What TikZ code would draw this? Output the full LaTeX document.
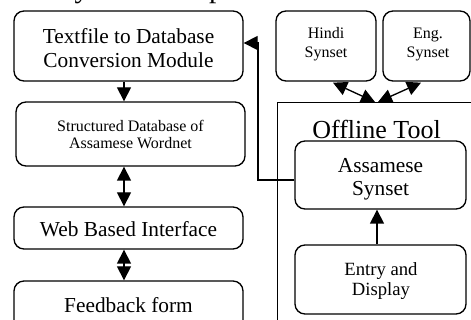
\documentclass[tikz,border=0pt]{standalone}
\usepackage{fontspec}
\setmainfont{Liberation Serif}
\usetikzlibrary{arrows.meta,calc}
\begin{document}
\begin{tikzpicture}[x=0.75pt,y=-0.75pt,
  box/.style={draw,line width=1pt,rounded corners=7.5pt,inner sep=0pt},
  txt/.style={inner sep=0pt,align=center},
  conn/.style={line width=1pt},
  tip/.style={-{Triangle[length=10.5pt,width=10.5pt]}},
  dtip/.style={{Triangle[length=10.5pt,width=10.5pt]}-{Triangle[length=10.5pt,width=10.5pt]}},
  fbig/.style={font=\fontsize{16}{18}\selectfont},
  fsmall/.style={font=\fontsize{12}{14.25}\selectfont}]
\useasboundingbox (0,0) rectangle (471,320);
\clip (0,0) rectangle (471,320);

% clipped heading (only descenders visible)
\node[anchor=base west,inner sep=0pt,font=\fontsize{22}{24}\selectfont] (ttl) at (58,-2) {System Components};

% left column
\node[box,minimum width=171.75pt,minimum height=52.5pt] (b1) at (128.5,46) {};
\node[txt,fbig] (b1t) at (128.5,48) {Textfile to Database\\Conversion Module};
\node[box,minimum width=171.75pt,minimum height=48pt] (b2) at (130.5,134) {};
\node[txt,font=\fontsize{12}{12.4}\selectfont] (b2t) at (130.5,134.5) {Structured Database of\\Assamese Wordnet};
\node[box,minimum width=171.75pt,minimum height=31.5pt] (b3) at (128.5,228) {};
\node[txt,fbig] (b3t) at (128.5,229) {Web Based Interface};
\node[box,minimum width=171.75pt,minimum height=45pt] (b4) at (128.5,311) {};
\node[txt,fbig] (b4t) at (128.5,305) {Feedback form};

% right column
\node[box,minimum width=75pt,minimum height=52.5pt] (hin) at (326,46) {};
\node[txt,fsmall] (hint) at (326,44) {Hindi\\Synset};
\node[box,minimum width=65.25pt,minimum height=52.5pt] (eng) at (426.5,46) {};
\node[txt,fsmall] (engt) at (428,44) {Eng.\\Synset};

\node[draw,line width=1pt,inner sep=0pt,anchor=north west,minimum width=159.75pt,minimum height=178.5pt] (tool) at (277,102) {};
\node[txt,font=\fontsize{19.5}{22}\selectfont] (toolt) at (376.5,129) {Offline Tool};

\node[box,minimum width=128.25pt,minimum height=51pt] (asm) at (380.5,175) {};
\node[txt,font=\fontsize{16}{17.6}\selectfont] (asmt) at (380.5,179) {Assamese\\Synset};
\node[box,minimum width=128.25pt,minimum height=51.75pt] (ent) at (380.5,279.5) {};
\node[txt,font=\fontsize{14}{15}\selectfont] (entt) at (381,281) {Entry and\\Display};

% connectors
\coordinate (colx) at (124,0);
\coordinate (ax) at (377,0);
\coordinate (hub1) at (375,102);
\coordinate (hub2) at (378,102);
\coordinate (fbx) at (258,180);

\draw[conn,tip] (b1.south -| colx) -- (b2.north -| colx);
\draw[conn,dtip] (b2.south -| colx) -- (b3.north -| colx);
\draw[conn,dtip] (b3.south -| colx) -- (b4.north -| colx);
\draw[conn,tip] (ent.north -| ax) -- (asm.south -| ax);
\draw[conn,dtip] ($(hin.south)+(7,1)$) -- (hub1);
\draw[conn,dtip] ($(eng.south)+(-5.5,1)$) -- (hub2);
\draw[conn,tip] ($(asm.west)+(0,5)$) -- (fbx) |- ($(b1.east)+(0,-3)$);
\end{tikzpicture}
\end{document}
